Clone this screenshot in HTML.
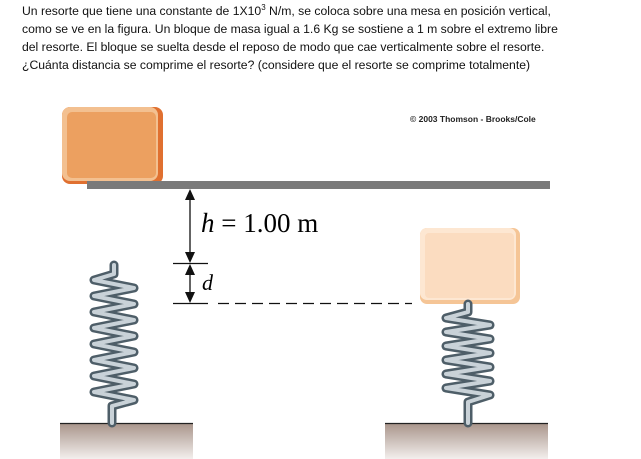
<!DOCTYPE html>
<html><head><style>
body{margin:0;background:#fff;width:641px;height:459px;overflow:hidden;position:relative;font-family:"Liberation Sans",sans-serif}
.t{position:absolute;left:22px;top:2px;font-size:12.2px;line-height:18px;color:#111;white-space:nowrap}
</style></head><body>
<div class="t">Un resorte que tiene una constante de 1X10<sup style="font-size:8px;line-height:0">3</sup> N/m, se coloca sobre una mesa en posición vertical,<br>como se ve en la figura. Un bloque de masa igual a 1.6 Kg se sostiene a 1 m sobre el extremo libre<br>del resorte. El bloque se suelta desde el reposo de modo que cae verticalmente sobre el resorte.<br>¿Cuánta distancia se comprime el resorte? (considere que el resorte se comprime totalmente)</div>
<svg width="641" height="459" style="position:absolute;left:0;top:0">
<defs>
<linearGradient id="g" x1="0" y1="0" x2="0" y2="1"><stop offset="0" stop-color="#a8948a"/><stop offset="1" stop-color="#f3efed"/></linearGradient>
</defs>
<text x="410" y="122" font-size="8.5" font-weight="bold" fill="#222" font-family="Liberation Sans">© 2003 Thomson - Brooks/Cole</text>
<rect x="62" y="107" width="101" height="77" rx="8" fill="#e07030"/>
<rect x="62" y="107" width="96" height="74" rx="8" fill="#f3c090"/>
<rect x="67" y="112" width="89" height="66" rx="5" fill="#eca060"/>
<rect x="87" y="181" width="463" height="8" fill="#7a7a7a"/>
<g stroke="#111" stroke-width="1.3" fill="#111">
<line x1="190" y1="192" x2="190" y2="260"/>
<polygon points="185,200 190,189 195,200" stroke="none"/>
<polygon points="185,252 190,263 195,252" stroke="none"/>
<line x1="173" y1="263.5" x2="208" y2="263.5"/>
<line x1="190" y1="266" x2="190" y2="300"/>
<polygon points="185,275 190,264 195,275" stroke="none"/>
<polygon points="185,292 190,303 195,292" stroke="none"/>
<line x1="173" y1="303.5" x2="208" y2="303.5"/>
<line x1="218" y1="303.5" x2="412" y2="303.5" stroke-dasharray="11,6"/>
</g>
<text x="201" y="232" font-size="27" font-family="Liberation Serif"><tspan font-style="italic">h</tspan> = 1.00 m</text>
<text x="202" y="290" font-size="22" font-style="italic" font-family="Liberation Serif">d</text>
<rect x="60" y="423" width="133" height="36" fill="url(#g)"/>
<line x1="60" y1="423.5" x2="193" y2="423.5" stroke="#222" stroke-width="1.2"/>
<rect x="385" y="423" width="163" height="36" fill="url(#g)"/>
<line x1="385" y1="423.5" x2="548" y2="423.5" stroke="#222" stroke-width="1.2"/>
<g fill="none" stroke-linecap="round" stroke-linejoin="round">
<path d="M114,265 L114,274 L94,280 L134,288 L94,296 L134,304 L94,312 L134,320 L94,328 L134,336 L94,344 L134,352 L94,360 L134,368 L94,376 L134,384 L94,392 L134,400 L112,406 L112,423" stroke="#4e5e68" stroke-width="9"/>
<path d="M114,265 L114,274 L94,280 L134,288 L94,296 L134,304 L94,312 L134,320 L94,328 L134,336 L94,344 L134,352 L94,360 L134,368 L94,376 L134,384 L94,392 L134,400 L112,406 L112,423" stroke="#c9d2d8" stroke-width="4"/>
</g>
<rect x="420" y="228" width="100" height="76" rx="7" fill="#f5c596"/>
<rect x="420" y="228" width="96" height="72" rx="7" fill="#fde7d2"/>
<rect x="425" y="233" width="89" height="65" rx="4" fill="#fbdcc0"/>
<g fill="none" stroke-linecap="round" stroke-linejoin="round">
<path d="M468,304 L468,312 L446,318 L490,325 L446,332 L490,339 L446,346 L490,353 L446,360 L490,367 L446,374 L490,381 L446,388 L490,395 L468,402 L468,423" stroke="#4e5e68" stroke-width="9"/>
<path d="M468,304 L468,312 L446,318 L490,325 L446,332 L490,339 L446,346 L490,353 L446,360 L490,367 L446,374 L490,381 L446,388 L490,395 L468,402 L468,423" stroke="#c9d2d8" stroke-width="4"/>
</g>
</svg>
</body></html>
